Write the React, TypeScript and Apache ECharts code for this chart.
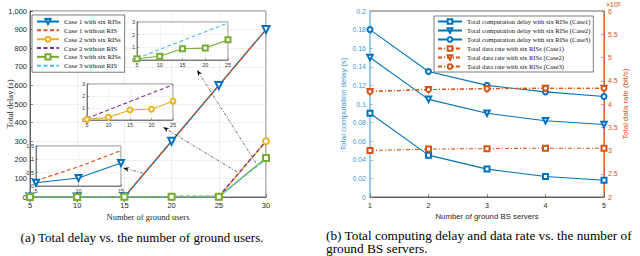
import React, { useEffect, useRef } from "react";
import * as echarts from "echarts";

// ---- Data: chart (a) ----
const users = [5, 10, 15, 20, 25, 30];
const case1RIS = [0.12, 0.3, 0.86, 300, 600, 900];
const case1No = [0.2, 0.72, 1.33, 300, 600, 900];
const case2RIS = [0.05, 0.22, 0.84, 0.9, 1.57, 300];
const case2No = [0.14, 0.84, 1.54, 2.24, 2.94, 300];
const case3RIS = [0.1, 0.29, 0.89, 0.94, 1.59, 210];
const case3No = [0.13, 0.83, 1.53, 2.23, 2.92, 203];

// ---- Data: chart (b) ----
const servers = [1, 2, 3, 4, 5];
const delayCase1 = [0.09, 0.045, 0.03, 0.022, 0.018];
const delayCase2 = [0.15, 0.105, 0.09, 0.082, 0.078];
const delayCase3 = [0.18, 0.135, 0.12, 0.113, 0.108];
const rateCase1 = [3.0, 3.03, 3.04, 3.05, 3.05]; // x10^5 bit/s
const rateCase2 = [4.27, 4.31, 4.33, 4.34, 4.34];
const rateCase3 = [4.27, 4.31, 4.33, 4.34, 4.34];

const legendA = [
  "Case 1 with six RISs",
  "Case 1 without RIS",
  "Case 2 with six RISs",
  "Case 2 without RIS",
  "Case 3 with six RISs",
  "Case 3 without RIS",
];
const legendB = [
  "Total computation delay with six RISs (Case1)",
  "Total computation delay with six RISs (Case2)",
  "Total computation delay with six RISs (Case3)",
  "Total data rate with six RISs (Case1)",
  "Total data rate with six RISs (Case2)",
  "Total data rate with six RISs (Case3)",
];

const BLUE = "#0072BD";
const ORANGE = "#D95319";
const YELLOW = "#EDB120";
const PURPLE = "#7E2F8E";
const GREEN = "#77AC30";
const LBLUE = "#4DBEEE";
const SERIF = "Liberation Serif";
const SANS = "Liberation Sans";

const pairs = (xs: number[], ys: number[], n?: number) =>
  xs.slice(0, n ?? xs.length).map((x, i) => [x, ys[i]]);

function arrow(x1: number, y1: number, x2: number, y2: number) {
  const a = Math.atan2(y2 - y1, x2 - x1);
  const L = 6, W = 2.3;
  const bx = x2 - L * Math.cos(a), by = y2 - L * Math.sin(a);
  const px = -Math.sin(a), py = Math.cos(a);
  return [
    {
      type: "line",
      z: 10,
      shape: { x1, y1, x2: bx, y2: by },
      style: { stroke: "#333", lineWidth: 0.7, lineDash: [3, 1.5, 1, 1.5] },
    },
    {
      type: "polygon",
      z: 10,
      shape: {
        points: [
          [x2, y2],
          [bx + W * px, by + W * py],
          [bx + 1.5 * Math.cos(a), by + 1.5 * Math.sin(a)],
          [bx - W * px, by - W * py],
        ],
      },
      style: { fill: "#111" },
    },
  ];
}

const mainAxisBase = (extra: any) => ({
  type: "value",
  nameMoveOverlap: false,
  axisLine: { show: true, onZero: false, lineStyle: { color: "#444", width: 0.8 } },
  axisTick: { show: true, inside: true, length: 3, lineStyle: { color: "#444", width: 0.6 } },
  splitLine: { show: true, lineStyle: { color: "#e6e6e6", width: 0.6 } },
  ...extra,
});

const insetAxis = (extra: any) => ({
  type: "value",
  z: 3,
  axisLine: { show: true, onZero: false, lineStyle: { color: "#555", width: 0.7 } },
  axisTick: { show: true, inside: true, length: 2, lineStyle: { color: "#555", width: 0.5 } },
  axisLabel: { fontFamily: SANS, fontSize: 5.5, color: "#333", margin: 2 },
  splitLine: { show: true, lineStyle: { color: "#e6e6e6", width: 0.5 } },
  ...extra,
});

function lineSeries(name: string, data: any, color: string, opts: any) {
  return {
    type: "line",
    name,
    data,
    symbol: opts.symbol ?? "none",
    symbolSize: opts.size ?? 6,
    symbolRotate: opts.rotate ?? 0,
    xAxisIndex: opts.ax,
    yAxisIndex: opts.ay,
    z: opts.z ?? 2,
    lineStyle: { color, width: opts.width ?? 1.4, type: opts.dash ?? "solid" },
    itemStyle: { color, borderColor: color, borderWidth: 1.1 },
    emphasis: { disabled: true },
  };
}

export default function App() {
  const ref = useRef<HTMLDivElement>(null);
  useEffect(() => {
    document.body.style.margin = "0";
    const chart = echarts.init(ref.current!, undefined, { renderer: "svg" });
    const dash = [4, 2.5];
    const dashDot = [4, 2, 1, 2];
    const series: any[] = [
      // main (a)
      lineSeries(legendA[0], pairs(users, case1RIS), BLUE, { symbol: "emptyTriangle", rotate: 180, size: 7, ax: 0, ay: 0 }),
      lineSeries(legendA[1], pairs(users, case1No), ORANGE, { dash, ax: 0, ay: 0 }),
      lineSeries(legendA[2], pairs(users, case2RIS), YELLOW, { symbol: "emptyCircle", size: 6, ax: 0, ay: 0 }),
      lineSeries(legendA[3], pairs(users, case2No), PURPLE, { dash, ax: 0, ay: 0 }),
      lineSeries(legendA[4], pairs(users, case3RIS), GREEN, { symbol: "emptyRect", size: 6, ax: 0, ay: 0 }),
      lineSeries(legendA[5], pairs(users, case3No), LBLUE, { dash, ax: 0, ay: 0 }),
      // inset 1 (case 3)
      lineSeries(legendA[4], pairs(users, case3RIS, 5), GREEN, { symbol: "emptyRect", size: 5, ax: 1, ay: 1, z: 4, width: 1.1 }),
      lineSeries(legendA[5], pairs(users, case3No, 5), LBLUE, { dash, ax: 1, ay: 1, z: 4, width: 1.1 }),
      // inset 2 (case 2)
      lineSeries(legendA[2], pairs(users, case2RIS, 5), YELLOW, { symbol: "emptyCircle", size: 5, ax: 2, ay: 2, z: 4, width: 1.1 }),
      lineSeries(legendA[3], pairs(users, case2No, 5), PURPLE, { dash, ax: 2, ay: 2, z: 4, width: 1.1 }),
      // inset 3 (case 1)
      lineSeries(legendA[0], pairs(users, case1RIS, 3), BLUE, { symbol: "emptyTriangle", rotate: 180, size: 6, ax: 3, ay: 3, z: 4, width: 1.1 }),
      lineSeries(legendA[1], pairs(users, case1No, 3), ORANGE, { dash, ax: 3, ay: 3, z: 4, width: 1.1 }),
      // (b)
      lineSeries(legendB[0], pairs(servers, delayCase1), BLUE, { symbol: "emptyRect", size: 5, ax: 4, ay: 4, width: 1.1 }),
      lineSeries(legendB[1], pairs(servers, delayCase2), BLUE, { symbol: "emptyTriangle", rotate: 180, size: 5.5, ax: 4, ay: 4, width: 1.1 }),
      lineSeries(legendB[2], pairs(servers, delayCase3), BLUE, { symbol: "emptyCircle", size: 5, ax: 4, ay: 4, width: 1.1 }),
      lineSeries(legendB[3], pairs(servers, rateCase1), ORANGE, { symbol: "emptyRect", size: 5, dash: dashDot, ax: 4, ay: 5, width: 1.1 }),
      lineSeries(legendB[4], pairs(servers, rateCase2), ORANGE, { symbol: "emptyTriangle", rotate: 180, size: 5, dash: dashDot, ax: 4, ay: 5, width: 1.1 }),
      lineSeries(legendB[5], pairs(servers, rateCase3), ORANGE, { symbol: "emptyCircle", size: 5, dash: dashDot, ax: 4, ay: 5, width: 1.1 }),
    ];

    const insetGrid = (left: number, top: number, width: number, height: number) => ({
      left, top, width, height, show: true, backgroundColor: "#fff", borderColor: "#555", borderWidth: 0.7, z: 2,
    });

    // dashed series have no marker: hide the legend's default circle for them
    const legendDataA = legendA.map((n, i) => (i % 2 === 1 ? { name: n, itemStyle: { opacity: 0 } } : n));

    const option: any = {
      animation: false,
      textStyle: { fontFamily: SANS },
      grid: [
        { left: 30, top: 11, width: 236, height: 186, show: true, borderColor: "#444", borderWidth: 0.8, outerBoundsMode: "none" },
        insetGrid(137, 22, 91, 38),
        insetGrid(87, 84, 86, 36),
        insetGrid(36, 146, 85, 40),
        { left: 370, top: 11, width: 234, height: 186, show: true, borderColor: "#444", borderWidth: 0.8, outerBoundsMode: "none" },
      ],
      xAxis: [
        mainAxisBase({
          gridIndex: 0, min: 5, max: 30, interval: 5,
          axisLabel: { fontFamily: SANS, fontSize: 7.5, color: "#262626", margin: 4 },
          name: "Number of ground users", nameLocation: "middle", nameGap: 15,
          nameTextStyle: { fontFamily: SERIF, fontSize: 8.5, color: "#262626" },
        }),
        insetAxis({ gridIndex: 1, min: 5, max: 25, interval: 5 }),
        insetAxis({ gridIndex: 2, min: 5, max: 25, interval: 5 }),
        insetAxis({ gridIndex: 3, min: 5, max: 15, interval: 5 }),
        {
          type: "value", gridIndex: 4, min: 1, max: 5, interval: 1, nameMoveOverlap: false,
          axisLine: { show: true, onZero: false, lineStyle: { color: "#444", width: 0.8 } },
          axisTick: { show: true, inside: true, length: 3, lineStyle: { color: "#444", width: 0.6 } },
          axisLabel: { fontFamily: SANS, fontSize: 7, color: "#262626", margin: 5 },
          splitLine: { show: false },
          name: "Number of ground BS servers", nameLocation: "middle", nameGap: 15,
          nameTextStyle: { fontFamily: SANS, fontSize: 7.8, color: "#262626" },
        },
      ],
      yAxis: [
        mainAxisBase({
          gridIndex: 0, min: 0, max: 1000, interval: 100,
          axisLabel: { fontFamily: SANS, fontSize: 7.5, color: "#262626", margin: 3 },
          name: "Total delay (s)", nameLocation: "middle", nameGap: 15.5,
          nameTextStyle: { fontFamily: SERIF, fontSize: 8.5, color: "#262626" },
        }),
        insetAxis({ gridIndex: 1, min: 0, max: 3, interval: 1 }),
        insetAxis({ gridIndex: 2, min: 0, max: 3, interval: 1 }),
        insetAxis({ gridIndex: 3, min: 0, max: 1.5, interval: 0.5 }),
        {
          type: "value", gridIndex: 4, min: 0, max: 0.2, interval: 0.02, position: "left", nameMoveOverlap: false,
          axisLine: { show: true, onZero: false, lineStyle: { color: "#9ccaed", width: 2 } },
          axisTick: { show: true, inside: true, length: 3, lineStyle: { color: "#4a9fd8", width: 0.6 } },
          axisLabel: { fontFamily: SANS, fontSize: 7, color: "#3f97d6", margin: 4 },
          splitLine: { show: false },
          name: "Total computation delay (s)", nameLocation: "middle", nameGap: 23,
          nameTextStyle: { fontFamily: SANS, fontSize: 7.8, color: "#3f97d6" },
        },
        {
          type: "value", gridIndex: 4, min: 2, max: 6, interval: 0.5, position: "right", nameMoveOverlap: false,
          axisLine: { show: true, onZero: false, lineStyle: { color: ORANGE, width: 0.8 } },
          axisTick: { show: true, inside: true, length: 3, lineStyle: { color: ORANGE, width: 0.6 } },
          axisLabel: { fontFamily: SANS, fontSize: 7, color: ORANGE, margin: 4 },
          splitLine: { show: false },
          name: "Total data rate (bit/s)", nameLocation: "middle", nameGap: 17,
          nameTextStyle: { fontFamily: SANS, fontSize: 7.8, color: ORANGE },
        },
      ],
      legend: [
        {
          data: legendDataA, orient: "vertical", left: 32, top: 15,
          backgroundColor: "#fff", borderColor: "#444", borderWidth: 0.7,
          padding: [3, 4], itemGap: 1.8, itemWidth: 22, itemHeight: 6.3,
          textStyle: { fontFamily: SERIF, fontSize: 6.8, color: "#111" },
          selectedMode: false,
        },
        {
          data: legendB, orient: "vertical", left: 434, top: 16,
          backgroundColor: "#fff", borderColor: "#444", borderWidth: 0.7,
          padding: [2, 3], itemGap: 2, itemWidth: 24, itemHeight: 5.8,
          textStyle: { fontFamily: SERIF, fontSize: 6.6, color: "#111" },
          selectedMode: false,
        },
      ],
      graphic: [
        ...arrow(256, 163, 197, 70),
        ...arrow(237, 172, 163, 127),
        ...arrow(143, 173, 123, 168),
        {
          type: "text", x: 606, y: 1,
          style: {
            text: "×10{s|5}", fill: ORANGE, fontFamily: SANS, fontSize: 7,
            rich: { s: { fontSize: 5, verticalAlign: "top", fill: ORANGE, fontFamily: SANS } },
          },
        },
        {
          type: "text", x: 142, y: 237,
          style: {
            text: "(a) Total delay vs. the number of ground users.", fill: "#000",
            fontFamily: SERIF, fontSize: 13, textAlign: "center", textVerticalAlign: "middle",
          },
        },
        {
          type: "text", x: 326, y: 235,
          style: {
            text: "(b) Total computing delay and data rate vs. the number of", fill: "#000",
            fontFamily: SERIF, fontSize: 13.3, textAlign: "left", textVerticalAlign: "middle",
          },
        },
        {
          type: "text", x: 326, y: 248.5,
          style: {
            text: "ground BS servers.", fill: "#000",
            fontFamily: SERIF, fontSize: 13.3, textAlign: "left", textVerticalAlign: "middle",
          },
        },
      ],
      series,
    };
    chart.setOption(option);
    return () => chart.dispose();
  }, []);
  return <div ref={ref} style={{ width: 640, height: 256 }} />;
}
